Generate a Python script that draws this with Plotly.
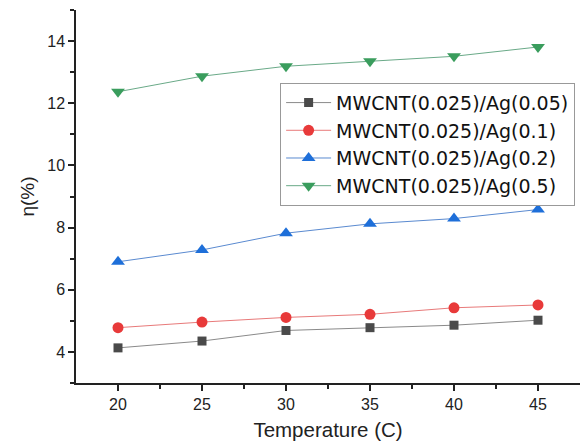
import plotly.graph_objects as go

temperature = [20, 25, 30, 35, 40, 45]
ag_005 = [4.13, 4.35, 4.69, 4.78, 4.86, 5.02]
ag_01 = [4.78, 4.96, 5.11, 5.21, 5.42, 5.51]
ag_02 = [6.90, 7.28, 7.82, 8.12, 8.29, 8.58]
ag_05 = [12.37, 12.87, 13.19, 13.35, 13.51, 13.81]

names = ["MWCNT(0.025)/Ag(0.05)", "MWCNT(0.025)/Ag(0.1)",
         "MWCNT(0.025)/Ag(0.2)", "MWCNT(0.025)/Ag(0.5)"]
series = [ag_005, ag_01, ag_02, ag_05]
marker_colors = ["#4a4a4a", "#e83a3a", "#1e6fd9", "#3a9d5d"]
line_colors = ["#8a8a8a", "#e87a7a", "#5a8ad0", "#6aaa88"]
symbols = ["square", "circle", "triangle-up", "triangle-down"]
sizes = [9, 11, 12, 12]

fig = go.Figure()
for n, s, mc, lc, sym, sz in zip(names, series, marker_colors, line_colors, symbols, sizes):
    fig.add_trace(go.Scatter(
        x=temperature, y=s, name=n, mode="lines+markers",
        line=dict(color=lc, width=1),
        marker=dict(symbol=sym, size=sz, color=mc, line=dict(width=0)),
    ))

font_family = "Liberation Sans, Arial, sans-serif"
fig.update_layout(
    width=582, height=445,
    margin=dict(l=76, r=2, t=10, b=62),
    paper_bgcolor="white", plot_bgcolor="white",
    font=dict(family=font_family, color="#222222"),
    showlegend=True,
    legend=dict(
        x=0.405, y=0.805, xanchor="left", yanchor="top",
        bordercolor="#999999", borderwidth=1, bgcolor="white",
        font=dict(size=19, family="DejaVu Sans, sans-serif", color="#111111"),
        tracegroupgap=0, itemwidth=45,
    ),
    xaxis=dict(
        range=[17.5, 47.5], tickvals=[20, 25, 30, 35, 40, 45],
        showline=True, linecolor="#222222", linewidth=1.5,
        ticks="outside", ticklen=6, tickwidth=1.5, tickcolor="#222222",
        minor=dict(tickvals=[22.5, 27.5, 32.5, 37.5, 42.5], ticks="outside",
                   ticklen=4, tickwidth=1.5, tickcolor="#222222"),
        showgrid=False, zeroline=False,
        tickfont=dict(size=16),
        title=dict(text="Temperature (C)", font=dict(size=20.5), standoff=11),
    ),
    yaxis=dict(
        range=[3, 15], tickvals=[4, 6, 8, 10, 12, 14],
        showline=True, linecolor="#222222", linewidth=1.5,
        ticks="outside", ticklen=6, tickwidth=1.5, tickcolor="#222222",
        minor=dict(tickvals=[3, 5, 7, 9, 11, 13, 15], ticks="outside",
                   ticklen=4, tickwidth=1.5, tickcolor="#222222"),
        showgrid=False, zeroline=False,
        tickfont=dict(size=16),
        title=dict(text="η(%)", font=dict(size=19), standoff=8),
    ),
)

fig.write_html("out.html")
